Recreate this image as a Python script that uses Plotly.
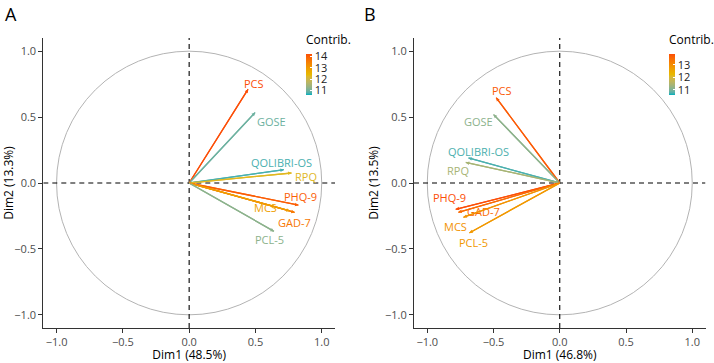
import plotly.graph_objects as go

# ---------------- data ----------------
variables = ["PCS", "GOSE", "QOLIBRI-OS", "RPQ", "PHQ-9", "GAD-7", "MCS", "PCL-5"]

a_dim1 = [0.445, 0.498, 0.715, 0.773, 0.825, 0.797, 0.760, 0.640]
a_dim2 = [0.712, 0.535, 0.101, 0.076, -0.168, -0.223, -0.212, -0.367]
a_contrib = [14.2, 10.95, 10.75, 12.3, 14.0, 13.6, 12.9, 11.2]

b_dim1 = [-0.480, -0.500, -0.690, -0.710, -0.786, -0.766, -0.728, -0.683]
b_dim2 = [0.648, 0.520, 0.190, 0.156, -0.200, -0.222, -0.260, -0.379]
b_contrib = [13.7, 11.15, 10.75, 11.4, 13.85, 13.5, 12.9, 12.8]

a_xtitle, a_ytitle = "Dim1 (48.5%)", "Dim2 (13.3%)"
b_xtitle, b_ytitle = "Dim1 (46.8%)", "Dim2 (13.5%)"
tick_vals = [-1.0, -0.5, 0.0, 0.5, 1.0]
cbar_a_ticks = [11, 12, 13, 14]
cbar_b_ticks = [11, 12, 13]

# label offsets in pixels (style only)
a_label_shift = [(6, 6), (16, -9), (-2, 7), (14, -4), (2, 9), (0, -10), (-24, 3), (-5, -8)]
b_label_shift = [(6, 7), (-15, -7), (10, 6), (-8, -8), (-6, 12), (25, 1), (-8, -9), (4, -10)]

# ---------------- colour helpers (Lab interpolation like ggplot) ----------------
GRAD = ["#00AFBB", "#E7B800", "#FC4E07"]


def _lin(c):
    return c / 12.92 if c <= 0.04045 else ((c + 0.055) / 1.055) ** 2.4


def _delin(c):
    c = 12.92 * c if c <= 0.0031308 else 1.055 * c ** (1 / 2.4) - 0.055
    return min(1.0, max(0.0, c))


def hex_to_lab(h):
    r, g, b = [_lin(int(h[i:i + 2], 16) / 255) for i in (1, 3, 5)]
    X = (0.4124 * r + 0.3576 * g + 0.1805 * b) / 0.95047
    Y = (0.2126 * r + 0.7152 * g + 0.0722 * b)
    Z = (0.0193 * r + 0.1192 * g + 0.9505 * b) / 1.08883
    f = lambda t: t ** (1 / 3) if t > 0.008856 else 7.787 * t + 16 / 116
    fx, fy, fz = f(X), f(Y), f(Z)
    return (116 * fy - 16, 500 * (fx - fy), 200 * (fy - fz))


def lab_to_rgb(L, a, b):
    fy = (L + 16) / 116
    fx = fy + a / 500
    fz = fy - b / 200
    finv = lambda t: t ** 3 if t ** 3 > 0.008856 else (t - 16 / 116) / 7.787
    X, Y, Z = finv(fx) * 0.95047, finv(fy), finv(fz) * 1.08883
    r = 3.2406 * X - 1.5372 * Y - 0.4986 * Z
    g = -0.9689 * X + 1.8758 * Y + 0.0415 * Z
    bb = 0.0557 * X - 0.2040 * Y + 1.0570 * Z
    return "rgb(%d,%d,%d)" % tuple(round(_delin(c) * 255) for c in (r, g, bb))


LABS = [hex_to_lab(h) for h in GRAD]


def ramp(t):
    t = min(1.0, max(0.0, t))
    seg = 0 if t <= 0.5 else 1
    u = (t - 0.5 * seg) / 0.5
    l0, l1 = LABS[seg], LABS[seg + 1]
    return lab_to_rgb(*[l0[i] + (l1[i] - l0[i]) * u for i in range(3)])


colorscale = [[i / 20, ramp(i / 20)] for i in range(21)]

FONT = "Open Sans"
W, H = 714, 363

fig = go.Figure()
annotations = []
shapes = []


def panel(xs, ys, cs, shifts, xa, ya, cax, cmin, cmax):
    xr, yr = xa.replace("axis", ""), ya.replace("axis", "")
    shapes.append(dict(type="circle", xref=xr, yref=yr, x0=-1, y0=-1, x1=1, y1=1,
                       line=dict(color="#B3B3B3", width=1), layer="below"))
    shapes.append(dict(type="line", xref=xr, yref=yr, x0=0, x1=0, y0=-1.1, y1=1.1,
                       line=dict(color="black", width=1.1, dash="5px,4px"), layer="below"))
    shapes.append(dict(type="line", xref=xr, yref=yr, x0=-1.1, x1=1.1, y0=0, y1=0,
                       line=dict(color="black", width=1.1, dash="5px,4px"), layer="below"))
    for name, x, y, c, (dx, dy) in zip(variables, xs, ys, cs, shifts):
        col = ramp((c - cmin) / (cmax - cmin))
        fig.add_trace(go.Scatter(x=[0, x], y=[0, y], mode="lines", xaxis=xr, yaxis=yr,
                                 line=dict(color=col, width=1.3), showlegend=False,
                                 hoverinfo="skip"))
        annotations.append(dict(x=x, y=y, xref=xr, yref=yr, ax=0, ay=0, axref=xr, ayref=yr,
                                text="", showarrow=True, arrowhead=2, arrowsize=0.55,
                                arrowwidth=1.3, arrowcolor=col, standoff=0))
        annotations.append(dict(x=x, y=y, xref=xr, yref=yr, text=name, showarrow=False,
                                xshift=dx, yshift=dy,
                                font=dict(family=FONT, size=11, color=col)))
    fig.add_trace(go.Scatter(x=xs, y=ys, mode="markers", xaxis=xr, yaxis=yr,
                             marker=dict(color=cs, coloraxis=cax, size=2, opacity=0),
                             showlegend=False, hoverinfo="skip"))


amin, amax = 10.6, max(a_contrib)
bmin, bmax = 10.6, max(b_contrib)
panel(a_dim1, a_dim2, a_contrib, a_label_shift, "xaxis", "yaxis", "coloraxis", amin, amax)
panel(b_dim1, b_dim2, b_contrib, b_label_shift, "xaxis2", "yaxis2", "coloraxis2", bmin, bmax)

ydom = [(H - 328) / H, (H - 38) / H]
axis_common = dict(range=[-1.1, 1.1], tickvals=tick_vals, tickformat=".1f", showgrid=False,
                   zeroline=False, showline=True, linecolor="#333333", linewidth=1,
                   ticks="outside", ticklen=4, tickwidth=1, tickcolor="#333333",
                   tickfont=dict(family=FONT, size=11, color="#4D4D4D"), fixedrange=True)


def cbar(ticks, xleft):
    return dict(x=xleft / W, xanchor="left", y=(H - 95) / H, yanchor="bottom",
                len=63, lenmode="pixels", thickness=6, thicknessmode="pixels",
                outlinewidth=0, xpad=0, ypad=0, tickvals=ticks, ticks="inside",
                ticklen=2, tickcolor="white",
                tickfont=dict(family=FONT, size=11, color="#222222"),
                title=dict(text="Contrib.", side="top",
                           font=dict(family=FONT, size=12, color="black")))


fig.update_layout(
    width=W, height=H, margin=dict(l=0, r=0, t=0, b=0),
    paper_bgcolor="white", plot_bgcolor="white",
    font=dict(family=FONT),
    xaxis=dict(domain=[43.3 / W, 335 / W], anchor="y",
               title=dict(text=a_xtitle, standoff=3, font=dict(family=FONT, size=12, color="black")),
               **axis_common),
    yaxis=dict(domain=ydom, anchor="x",
               title=dict(text=a_ytitle, standoff=3, font=dict(family=FONT, size=12, color="black")),
               **axis_common),
    xaxis2=dict(domain=[414 / W, 705.5 / W], anchor="y2",
                title=dict(text=b_xtitle, standoff=3, font=dict(family=FONT, size=12, color="black")),
                **axis_common),
    yaxis2=dict(domain=ydom, anchor="x2",
                title=dict(text=b_ytitle, standoff=3, font=dict(family=FONT, size=12, color="black")),
                **axis_common),
    coloraxis=dict(colorscale=colorscale, cmin=amin, cmax=amax, colorbar=cbar(cbar_a_ticks, 306)),
    coloraxis2=dict(colorscale=colorscale, cmin=bmin, cmax=bmax, colorbar=cbar(cbar_b_ticks, 669)),
    shapes=shapes,
)

annotations.append(dict(x=3 / W, y=1, xref="paper", yref="paper", xanchor="left", yanchor="top",
                        text="A", showarrow=False, font=dict(family=FONT, size=18, color="black")))
annotations.append(dict(x=362 / W, y=1, xref="paper", yref="paper", xanchor="left", yanchor="top",
                        text="B", showarrow=False, font=dict(family=FONT, size=18, color="black")))
fig.update_layout(annotations=annotations)

fig.write_html("out.html", config={"displayModeBar": False, "staticPlot": True},
               post_script="document.body.style.margin='0';document.body.style.padding='0';")
